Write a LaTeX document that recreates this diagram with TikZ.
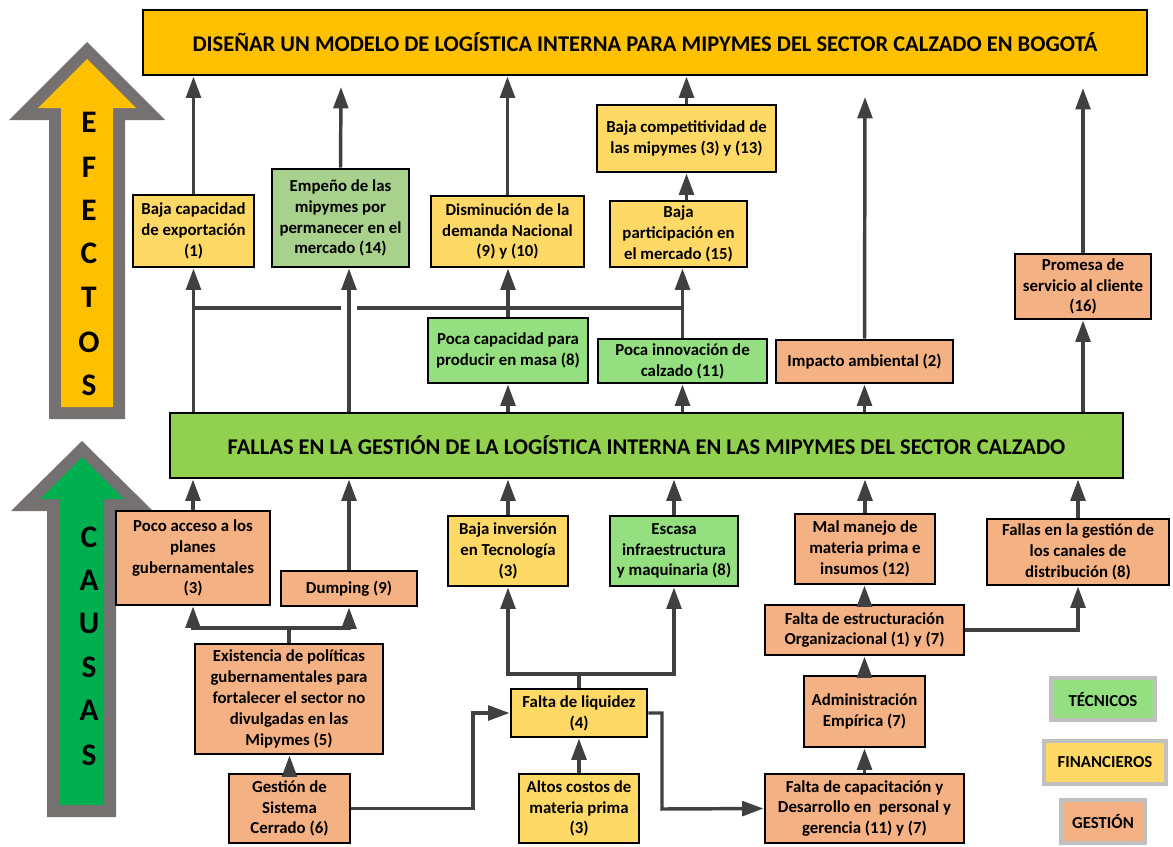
\documentclass[tikz,border=0pt]{standalone}
\usepackage{fontspec}
\setmainfont{Carlito}
\usetikzlibrary{arrows.meta}

\definecolor{goalfill}{HTML}{FFC000}
\definecolor{barfill}{HTML}{92D050}
\definecolor{yelfill}{HTML}{FFD966}
\definecolor{tecfill}{HTML}{94DF80}
\definecolor{empfill}{HTML}{A9D18E}
\definecolor{gesfill}{HTML}{F4B183}
\definecolor{bigarrow}{HTML}{767171}
\definecolor{causefill}{HTML}{00B050}
\definecolor{linegray}{HTML}{404040}
\definecolor{legendgray}{HTML}{C0C0C0}

% box given by its corners: name, x1, y1, x2, y2, style, text
\newcommand\bx[7]{%
  \node[box,#6,minimum width={(#4-#2)*0.75pt},minimum height={(#5-#3)*0.75pt}]
    (#1) at ({(#2+#4)/2},{(#3+#5)/2}) {#7};}

\begin{document}
\begin{tikzpicture}[x=0.75pt,y=-0.75pt,
  box/.style={draw=black,line width=2.2pt,align=center,inner sep=0pt,
    font=\bfseries\fontsize{12.6}{15.6}\selectfont},
  headbox/.style={font=\bfseries\fontsize{16.85}{19}\selectfont},
  yel/.style={fill=yelfill},
  tec/.style={fill=tecfill},
  ges/.style={fill=gesfill},
  legend/.style={draw=legendgray,line width=3pt},
  conn/.style={draw=linegray,line width=2.6pt},
  arr/.style={conn,-{Triangle[width=11pt,length=16pt]}},
  letter/.style={inner sep=0pt,font=\bfseries\fontsize{23.5}{23.5}\selectfont}]
\useasboundingbox (0,0) rectangle (1173,846);

% side arrows
\fill[bigarrow] (87,42) -- (165,120) -- (125,120) -- (125,419) -- (49,419) -- (49,120) -- (9,120) -- cycle;
\fill[goalfill] (87,59) -- (136,108) -- (113,108) -- (113,407) -- (61,407) -- (61,108) -- (38,108) -- cycle;
\fill[bigarrow] (82,441) -- (153,511) -- (116,511) -- (116,817) -- (47,817) -- (47,511) -- (11,511) -- cycle;
\fill[causefill] (82,457) -- (124,499) -- (104,499) -- (104,805) -- (59,805) -- (59,499) -- (40,499) -- cycle;
\foreach \l/\y [count=\i] in {E/122,F/167,E/210,C/253,T/297,O/342,S/385}
  \node[letter] (ef\i) at (89,\y) {\l};
\foreach \l/\y [count=\i] in {C/537,A/580,U/623,S/667,A/710,S/755}
  \node[letter] (ca\i) at (89,\y) {\l};

% main boxes
\bx{goal}{143}{10}{1147}{75}{headbox,fill=goalfill}{DISEÑAR UN MODELO DE LOGÍSTICA INTERNA PARA MIPYMES DEL SECTOR CALZADO EN BOGOTÁ}
\bx{fallas}{170}{413}{1123}{478}{headbox,fill=barfill}{FALLAS EN LA GESTIÓN DE LA LOGÍSTICA INTERNA EN LAS MIPYMES DEL SECTOR CALZADO}

% effects
\bx{bcap}{133}{195}{254}{267}{yel}{Baja capacidad\\de exportación\\(1)}
\bx{emp}{272}{169}{409}{267}{fill=empfill}{Empeño de las\\mipymes por\\permanecer en el\\mercado (14)}
\bx{dism}{431}{196}{584}{267}{yel}{Disminución de la\\demanda Nacional\\(9) y (10)}
\bx{bcomp}{597}{105}{776}{172}{yel}{Baja competitividad de\\las mipymes (3) y (13)}
\bx{bpart}{610}{201}{747}{267}{yel}{Baja\\participación en\\el mercado (15)}
\bx{pcap}{428}{318}{588}{383}{tec}{Poca capacidad para\\producir en masa (8)}
\bx{pinn}{598}{339}{767}{383}{tec}{Poca innovación de\\calzado (11)}
\bx{impa}{776}{340}{953}{383}{ges}{Impacto ambiental (2)}
\bx{prom}{1015}{254}{1151}{319}{ges}{Promesa de\\servicio al cliente\\(16)}

% causes
\bx{pacc}{116}{511}{270}{605}{ges}{Poco acceso a los\\planes\\gubernamentales\\(3)}
\bx{dump}{281}{571}{417}{606}{ges}{Dumping (9)}
\bx{exis}{195}{644}{383}{754}{ges}{Existencia de políticas\\gubernamentales para\\fortalecer el sector no\\divulgadas en las\\Mipymes (5)}
\bx{gest}{229}{774}{350}{843}{ges}{Gestión de\\Sistema\\Cerrado (6)}
\bx{binv}{448}{516}{568}{586}{yel}{Baja inversión\\en Tecnología\\(3)}
\bx{esca}{610}{516}{738}{586}{tec}{Escasa\\infraestructura\\y maquinaria (8)}
\bx{fliq}{511}{689}{647}{737}{yel}{Falta de liquidez\\(4)}
\bx{altos}{519}{774}{639}{843}{yel}{Altos costos de\\materia prima\\(3)}
\bx{malm}{795}{514}{935}{584}{ges}{Mal manejo de\\materia prima e\\insumos (12)}
\bx{fcan}{987}{519}{1169}{585}{ges}{Fallas en la gestión de\\los canales de\\distribución (8)}
\bx{fest}{765}{605}{964}{655}{ges}{Falta de estructuración\\Organizacional (1) y (7)}
\bx{adm}{804}{676}{925}{747}{ges}{Administración\\Empírica (7)}
\bx{fcap}{765}{774}{964}{843}{ges}{Falta de capacitación y\\Desarrollo en~ personal y\\gerencia (11) y (7)}

% legend
\bx{ltec}{1051}{678}{1155}{720}{tec,legend}{TÉCNICOS}
\bx{lfin}{1044}{741}{1166}{784}{yel,legend}{FINANCIEROS}
\bx{lges}{1061}{800}{1145}{843}{ges,legend}{GESTIÓN}

% free arrow ends below the goal
\coordinate (e1) at (341,87);
\coordinate (e2) at (865,97);
\coordinate (e3) at (1083,88);

% effects -> goal
\draw[arr] (bcap.north) -- (bcap.north |- goal.south);
\draw[arr] (emp.north) -- (e1);
\draw[arr] (dism.north) -- (dism.north |- goal.south);
\draw[arr] (bcomp.north) -- (bcomp.north |- goal.south);
\draw[arr] (bcomp.south |- bpart.north) -- (bcomp.south);
\draw[arr] (impa.north) -- (e2);
\draw[arr] (prom.north) -- (e3);

% problem -> effects
\draw[arr] (bcap.south |- fallas.north) -- (bcap.south);
\draw[arr] (349,0 |- fallas.north) -- (349,0 |- emp.south);
\draw[arr] (pcap.south |- fallas.north) -- (pcap.south);
\draw[arr] (pcap.north) -- (pcap.north |- dism.south);
\draw[arr] (pinn.south |- fallas.north) -- (pinn.south);
\draw[arr] (pinn.north) -- (pinn.north |- bpart.south);
\draw[arr] (impa.south |- fallas.north) -- (impa.south);
\draw[arr] (prom.south |- fallas.north) -- (prom.south);
\draw[conn] (bcap.south |- 0,308) -- (341,308);
\draw[conn] (357,308) -- (pinn.north |- 0,308);

% causes -> problem
\draw[arr] (pacc.north) -- (pacc.north |- fallas.south);
\draw[arr] (dump.north) -- (dump.north |- fallas.south);
\draw[arr] (binv.north) -- (binv.north |- fallas.south);
\draw[arr] (esca.north) -- (esca.north |- fallas.south);
\draw[arr] (malm.north) -- (malm.north |- fallas.south);
\draw[arr] (fcan.north) -- (fcan.north |- fallas.south);

% deeper causes
\draw[conn] (exis.north) -- (exis.north |- 0,628);
\draw[arr] (exis.north |- 0,628) -| (pacc.south);
\draw[arr] (exis.north |- 0,628) -| (dump.south);
\draw[arr] (gest.north) -- (gest.north |- exis.south);
\coordinate (g1) at (473,713);
\draw[arr] (gest.east) -| (g1) -- (fliq.west);
\draw[conn] (fliq.north) -- (fliq.north |- 0,674);
\draw[arr] (fliq.north |- 0,674) -| (binv.south);
\draw[arr] (fliq.north |- 0,674) -| (esca.south);
\draw[arr] (altos.north) -- (altos.north |- fliq.south);
\coordinate (g2) at (662,809);
\draw[arr] (fliq.east) -| (g2) -- (fcap.west);
\draw[arr] (fest.north) -- (fest.north |- malm.south);
\draw[arr] (fest.east) -| (fcan.south);
\draw[arr] (adm.north) -- (adm.north |- fest.south);
\draw[arr] (fcap.north) -- (fcap.north |- adm.south);
\end{tikzpicture}
\end{document}
